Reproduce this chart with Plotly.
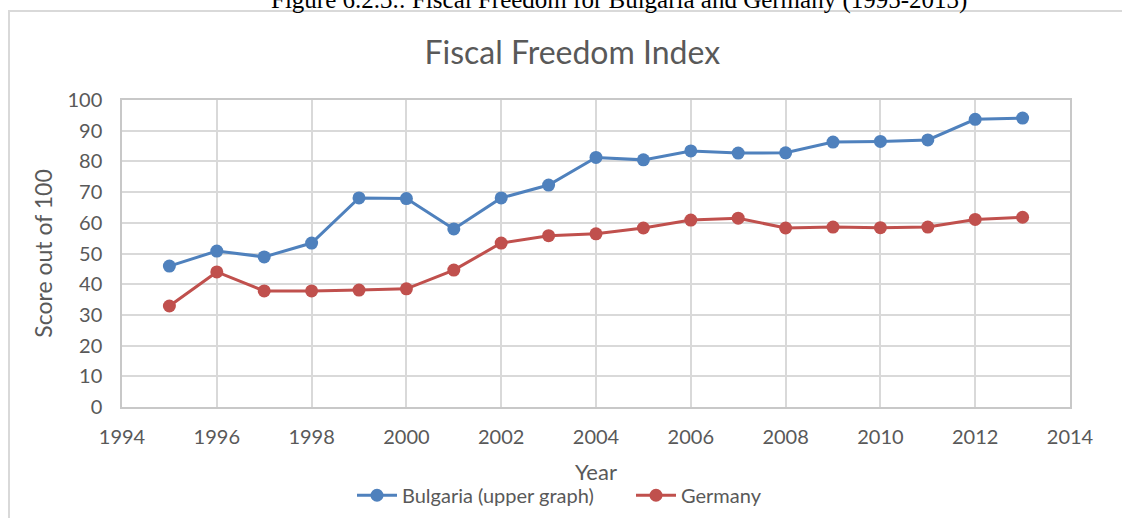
import plotly.graph_objects as go

years = list(range(1995, 2014))
bulgaria = [45.9, 50.8, 48.9, 53.4, 68.1, 67.9, 58.0, 68.1, 72.3, 81.3, 80.5, 83.4, 82.7, 82.8, 86.3, 86.5, 87.0, 93.7, 94.1]
germany = [32.9, 44.0, 37.8, 37.8, 38.1, 38.5, 44.6, 53.4, 55.8, 56.4, 58.3, 60.9, 61.5, 58.3, 58.6, 58.4, 58.6, 61.1, 61.8]

x_ticks = list(range(1994, 2015, 2))
y_ticks = list(range(0, 101, 10))

series_names = ["Bulgaria (upper graph)", "Germany"]
colors = ["#4F81BD", "#C0504D"]

FONT = "Lato"
GRAY = "#595959"
CLEAR = "rgba(0,0,0,0)"

fig = go.Figure()
for name, vals, col in zip(series_names, [bulgaria, germany], colors):
    fig.add_trace(go.Scatter(
        x=years, y=vals, name=name, mode="lines+markers",
        line=dict(color=col, width=3),
        marker=dict(color=col, size=13),
    ))

fig.update_layout(
    width=1122, height=518,
    margin=dict(l=122, r=52, t=100, b=111, autoexpand=False),
    paper_bgcolor="white", plot_bgcolor="white",
    font=dict(family=FONT, size=20, color=GRAY),
    title=dict(text="Fiscal Freedom Index", x=0.475, xref="paper", xanchor="center",
               y=1 - 53 / 518, yanchor="middle", font=dict(size=32, color=GRAY, family=FONT)),
    showlegend=True,
    legend=dict(orientation="h", x=(352 - 122) / 948, xanchor="left", y=-0.224, yanchor="top",
                font=dict(size=20, color=GRAY), itemwidth=40, tracegroupgap=0,
                entrywidth=224),
    xaxis=dict(range=[1994, 2014], tickvals=x_ticks, showgrid=True, gridcolor="#d9d9d9", gridwidth=1.5,
               showline=True, linecolor="#c8c8c8", linewidth=1.5, mirror=True,
               ticks="outside", ticklen=11, tickcolor=CLEAR,
               zeroline=False, tickfont=dict(size=20, color=GRAY),
               title=dict(text="Year", standoff=18, font=dict(size=22, color=GRAY))),
    yaxis=dict(range=[0, 100], tickvals=y_ticks, showgrid=True, gridcolor="#d9d9d9", gridwidth=1.5,
               showline=True, linecolor="#c8c8c8", linewidth=1.5, mirror=True,
               ticks="outside", ticklen=14, tickcolor=CLEAR,
               zeroline=False, tickfont=dict(size=20, color=GRAY),
               title=dict(text="Score out of 100", standoff=8, font=dict(size=23, color=GRAY))),
    shapes=[dict(type="rect", xref="paper", yref="paper",
                 x0=(9 - 122) / 948, x1=1.2, y0=-0.5, y1=(407 - 11) / 307,
                 line=dict(color="#d9d9d9", width=2), fillcolor=CLEAR, layer="below")],
    annotations=[dict(text="Figure 6.2.3.: Fiscal Freedom for Bulgaria and Germany (1995-2013)",
                      xref="paper", yref="paper", x=(619 - 122) / 948, y=407 / 307,
                      xanchor="center", yanchor="middle", showarrow=False,
                      font=dict(family="Liberation Serif", size=25, color="black"))],
)

fig.write_html("out.html", config={"displayModeBar": False},
               post_script="document.body.style.margin='0';document.body.style.overflow='hidden';")
